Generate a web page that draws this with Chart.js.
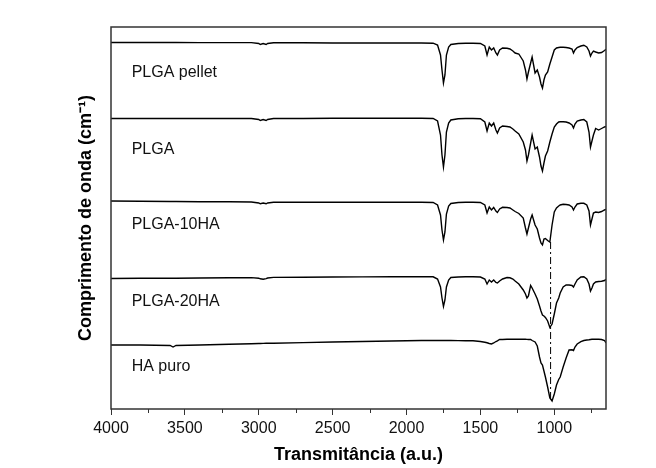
<!DOCTYPE html>
<html><head><meta charset="utf-8">
<script src="https://cdn.jsdelivr.net/npm/chart.js@4.4.1/dist/chart.umd.min.js"></script>
<style>html,body{margin:0;padding:0;background:#fff;}#wrap{width:656px;height:468px;}</style>
</head><body><div id="wrap"><canvas id="c" width="656" height="468"></canvas></div>
<script>
const wavenumbers = [4000,3800,3600,3580,3560,3400,3200,3050,3000,2990,2970,2950,2940,2900,2700,2500,2300,2100,1900,1820,1790,1770,1760,1750,1740,1730,1715,1700,1650,1600,1550,1500,1470,1455,1440,1425,1410,1395,1385,1370,1350,1320,1300,1280,1265,1240,1210,1195,1185,1175,1160,1150,1130,1115,1100,1090,1080,1070,1060,1045,1030,1015,1000,985,970,960,940,920,900,880,870,860,845,820,800,780,765,755,745,735,720,700,680,660,650];

const plgaPellet = [366.5,366.5,366.5,366.5,366.5,366.4,366.4,366.4,365.5,364.5,365.5,364.5,365.5,366.3,366.2,366,366,366,366,365.8,364,354,339,326,334,354,362,364.5,365.5,365.7,365.7,365.5,363,354,362,359,361,356,354,359,361,360.7,360,358,356,355,348,339,330,337,346,352,336,339,332,325,321,329,334,337,345,352,359,361,361.5,361.7,361.7,361.5,361,360,356,359,361.5,363,363.8,362,358,353,356,358,357,356,356.5,358.5,359.7];

const plga = [290.5,290.5,290.5,290.5,290.5,290.5,290.5,290.5,289.5,288.5,289.5,288.5,289.5,290.5,290.5,290.7,290.7,290.7,290.7,290.5,288,274,254,242,254,277,286,289,290.2,290.5,290.5,290.2,287,278,286,283,286,279,276,281,283,282.5,282,280,278,275,267,259,248,254,266,274,260,262,252,243,238,246,253,258,267,275,282,285,287,287.3,287.3,287,286,284,281,285,288,289,289.5,287,277,262,268,274,280.5,279,280.5,282,282.5];

const plga10HA = [208,207.7,207.5,207.5,207.5,207.3,207.2,207,206,205.2,206,205.2,206,206.8,206.7,206.7,206.7,206.7,206.7,206.5,204,194,179,169,177,195,203,205.5,206.5,206.7,206.7,206.5,204,196,202,199,201.5,198,196.5,200,201.7,201.5,201,199,197.5,195.5,191,181,175,181,190,194,184,180,171,166,164,170,170.5,168.5,167,184,197,201,203,204,204.7,204.5,204,202,199,202,205,205.7,205.7,204,198,184,190,196,197,196.5,197.5,199,199.7];

const plga20HA = [130.5,130.7,130.8,130.8,130.8,131,131.2,131.4,130.8,130.2,129.8,130.4,131,131.6,131.7,132,132.1,132.2,132.3,132.2,130,122,111,102.5,109,122,129,131.5,132,132.3,132.3,132,130,125,129,127,129,126.5,126,128,130,131.5,131.2,130,128,125,119,115,111,113,123.5,121,115,110,103,98,94,93,91.5,88,81.5,85,95,106,111,116,122,124,124,123.5,122,125,129,132,132.3,130,125,118,121,125,127,127.5,127.7,128.5,129.7];

const haPuro = [64,64,63.5,62,63.5,64,64.7,65.2,65.5,65.5,65.6,65.7,65.7,65.8,66.4,67,67.5,68,68.5,68.5,68.5,68.5,68.5,68.5,68.5,68.5,68.5,68.5,68.4,68.2,68.3,67.5,66.7,66.2,65.5,65,66,67.5,68.2,69.5,69.5,69.7,69.8,69.8,69.7,69.7,69.7,69.7,69.6,69.5,69.5,68.5,67,63,52,46,44,38,32,22,11,8,15,24,29.5,32,42,51,59,59.2,58.5,62,65,67.3,68.5,69,69.2,69.5,69.7,69.7,69.7,69.7,69.5,68.5,66];

const seriesNames = ['PLGA pellet','PLGA','PLGA-10HA','PLGA-20HA','HA puro'];
const seriesValues = [plgaPellet, plga, plga10HA, plga20HA, haPuro];
const labelWavenumber = 3860;
const labelLevels = [336, 259.5, 184.7, 107, 42];
const xTickValues = [4000,3500,3000,2500,2000,1500,1000];
const xMinorTicks = [3750,3250,2750,2250,1750,1250,750];
const markerWavenumber = 1025;
const markerRange = [167, 9];

const FONT = 'Arial, "Liberation Sans", Helvetica, sans-serif';

const datasets = seriesValues.map((vals, s) => ({
  label: seriesNames[s],
  data: wavenumbers.map((w, i) => ({x: w, y: vals[i]})),
  borderColor: '#000',
  borderWidth: 1.4,
  pointRadius: 0,
  tension: 0,
  fill: false
}));
datasets.push({
  label: 'marker',
  data: markerRange.map(v => ({x: markerWavenumber, y: v})),
  borderColor: '#000',
  borderWidth: 1,
  borderDash: [7, 3, 2, 3],
  pointRadius: 0,
  fill: false
});

const decor = {
  id: 'decor',
  afterDraw(chart) {
    const {ctx, chartArea: a, scales: {x, y}} = chart;
    ctx.save();
    ctx.strokeStyle = '#333';
    ctx.lineWidth = 1.5;
    ctx.strokeRect(a.left, a.top, a.right - a.left, a.bottom - a.top);
    ctx.lineWidth = 1;
    ctx.beginPath();
    xMinorTicks.forEach(v => {
      const px = Math.round(x.getPixelForValue(v)) + 0.5;
      ctx.moveTo(px, a.bottom);
      ctx.lineTo(px, a.bottom + 4);
    });
    ctx.stroke();
    ctx.fillStyle = '#111';
    ctx.font = '16px ' + FONT;
    ctx.textBaseline = 'middle';
    ctx.textAlign = 'left';
    seriesNames.forEach((n, i) => {
      ctx.fillText(n, x.getPixelForValue(labelWavenumber), y.getPixelForValue(labelLevels[i]));
    });
    ctx.restore();
  }
};

new Chart(document.getElementById('c'), {
  type: 'line',
  data: {datasets},
  options: {
    responsive: false,
    animation: false,
    devicePixelRatio: 1,
    layout: {padding: {left: 0, top: 27, right: 50, bottom: 0}},
    plugins: {legend: {display: false}, tooltip: {enabled: false}},
    scales: {
      x: {
        type: 'linear',
        reverse: true,
        min: 650,
        max: 4000,
        afterBuildTicks: s => { s.ticks = xTickValues.map(v => ({value: v})); },
        afterFit: s => { s.height = 59; },
        ticks: {font: {family: FONT, size: 16}, color: '#111', maxRotation: 0, autoSkip: false, padding: 4, callback: v => String(v)},
        grid: {display: true, drawOnChartArea: false, drawTicks: true, tickLength: 6, tickColor: '#333', tickWidth: 1},
        border: {display: false},
        title: {display: true, text: 'Transmitância (a.u.)', color: '#000', font: {family: FONT, size: 18, weight: 'bold'}, padding: {top: 0, bottom: 2}}
      },
      y: {
        type: 'linear',
        min: 0,
        max: 382,
        afterFit: s => { s.width = 111; },
        ticks: {display: false},
        grid: {display: false},
        border: {display: false},
        title: {display: true, text: 'Comprimento de onda (cm⁻¹)', color: '#000', font: {family: FONT, size: 18, weight: 'bold'}, padding: {top: 75, bottom: 0}}
      }
    }
  },
  plugins: [decor]
});
</script></body></html>
